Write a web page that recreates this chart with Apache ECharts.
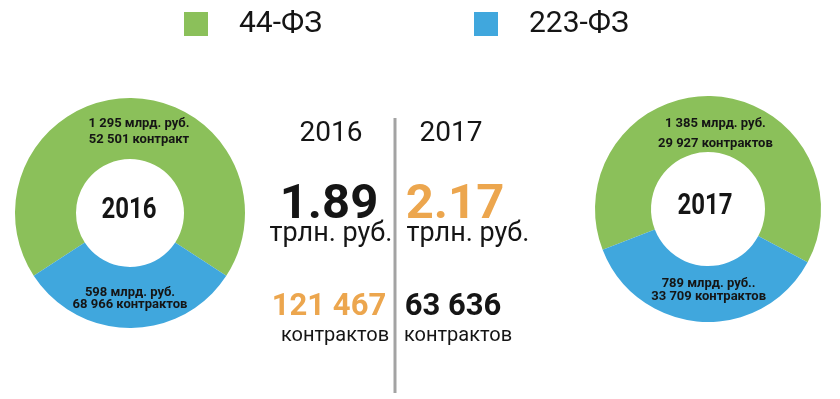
<!DOCTYPE html>
<html>
<head>
<meta charset="utf-8">
<script src="https://cdn.jsdelivr.net/npm/echarts@6/dist/echarts.min.js"></script>
<style>
  html, body { margin: 0; padding: 0; background: #ffffff; }
  #chart { width: 840px; height: 399px; }
</style>
</head>
<body>
<div id="chart"></div>
<script>
// data
const years = ['2016', '2017']
const laws = ['44-ФЗ', '223-ФЗ']
const volume44 = [1295, 1385]   // млрд. руб.
const volume223 = [598, 789]    // млрд. руб.
const contracts44 = [52501, 29927]
const contracts223 = [68966, 33709]
const contractWord44 = ['контракт', 'контрактов']
const rubWord223 = ['млрд. руб.', 'млрд. руб..']

const GREEN = '#8bc05a'
const BLUE = '#40a7dd'
const ORANGE = '#eca64e'
const INK = '#151515'
const NARROW = '"Liberation Sans Narrow", "Arial Narrow", Roboto, sans-serif'

// layout of the two donuts
const donutCenter = [[130, 213], [708, 209]]
const donutRadius = [[54, 115], [57, 113]]
const blueMid = [270, 266.5]
const labelLines = [[16, 12], [20, 13]]
// nudges for slice labels [dx, dy], per donut: [green, blue]
const labelShift = [
  [[9, 6], [0, -2]],
  [[2, 13], [6, -7]]
]

function fmt(n) {
  return String(n).replace(/\B(?=(\d{3})+(?!\d))/g, ' ')
}

function donut(i) {
  const f = volume223[i] / (volume44[i] + volume223[i])
  return {
    type: 'pie',
    center: donutCenter[i],
    radius: donutRadius[i],
    startAngle: blueMid[i] - 180 * f,
    clockwise: true,
    silent: true,
    emphasis: { disabled: true },
    label: {
      show: true,
      position: 'inside',
      color: INK,
      fontFamily: NARROW,
      fontWeight: 'bold',
      fontSize: 13
    },
    labelLine: { show: false },
    labelLayout: function (p) {
      const s = labelShift[i][p.dataIndex]
      return { dx: s[0], dy: s[1] }
    },
    data: [
      {
        name: laws[0],
        value: volume44[i],
        itemStyle: { color: GREEN },
        label: {
          lineHeight: labelLines[i][0],
          formatter: fmt(volume44[i]) + ' млрд. руб.\n' + fmt(contracts44[i]) + ' ' + contractWord44[i]
        }
      },
      {
        name: laws[1],
        value: volume223[i],
        itemStyle: { color: BLUE },
        label: {
          lineHeight: labelLines[i][1],
          formatter: fmt(volume223[i]) + ' ' + rubWord223[i] + '\n' + fmt(contracts223[i]) + ' контрактов'
        }
      }
    ]
  }
}

function txt(x, y, str, size, weight, color, family, sx) {
  return {
    type: 'text',
    x: x,
    y: y,
    scaleX: sx || 1,
    silent: true,
    style: {
      text: str,
      fill: color || INK,
      font: (weight || 'normal') + ' ' + size + 'px ' + (family || 'Roboto, sans-serif'),
      textAlign: 'center',
      textVerticalAlign: 'middle'
    }
  }
}

const totalVol = years.map((y, i) => ((volume44[i] + volume223[i]) / 1000).toFixed(2))
const totalCnt = years.map((y, i) => fmt(contracts44[i] + contracts223[i]))

const chart = echarts.init(document.getElementById('chart'))
chart.setOption({
  animation: false,
  backgroundColor: '#ffffff',
  legend: {
    data: laws,
    left: 184,
    top: 9,
    padding: 0,
    icon: 'rect',
    itemWidth: 24,
    itemHeight: 24,
    itemGap: 152,
    selectedMode: false,
    textStyle: {
      fontFamily: 'Roboto, sans-serif',
      fontSize: 30,
      color: INK,
      padding: [0, 0, 0, 26]
    }
  },
  series: [donut(0), donut(1)],
  graphic: [
    txt(129, 210, years[0], 30, 'bold', INK, NARROW, 0.8),
    txt(705, 206, years[1], 30, 'bold', INK, NARROW, 0.8),
    {
      type: 'line',
      silent: true,
      shape: { x1: 395, y1: 118, x2: 395, y2: 393 },
      style: { stroke: '#a3a3a3', lineWidth: 3 }
    },
    txt(331, 134, years[0], 28),
    txt(451, 134, years[1], 28),
    txt(329, 206, totalVol[0], 49, 'bold'),
    txt(455, 206, totalVol[1], 49, 'bold', ORANGE),
    txt(331, 234, 'трлн. руб.', 27),
    txt(468, 234, 'трлн. руб.', 27),
    txt(329, 307, totalCnt[0], 31, 'bold', ORANGE),
    txt(453, 307, totalCnt[1], 31, 'bold'),
    txt(335, 336, 'контрактов', 20),
    txt(458, 336, 'контрактов', 20)
  ]
})
</script>
</body>
</html>
